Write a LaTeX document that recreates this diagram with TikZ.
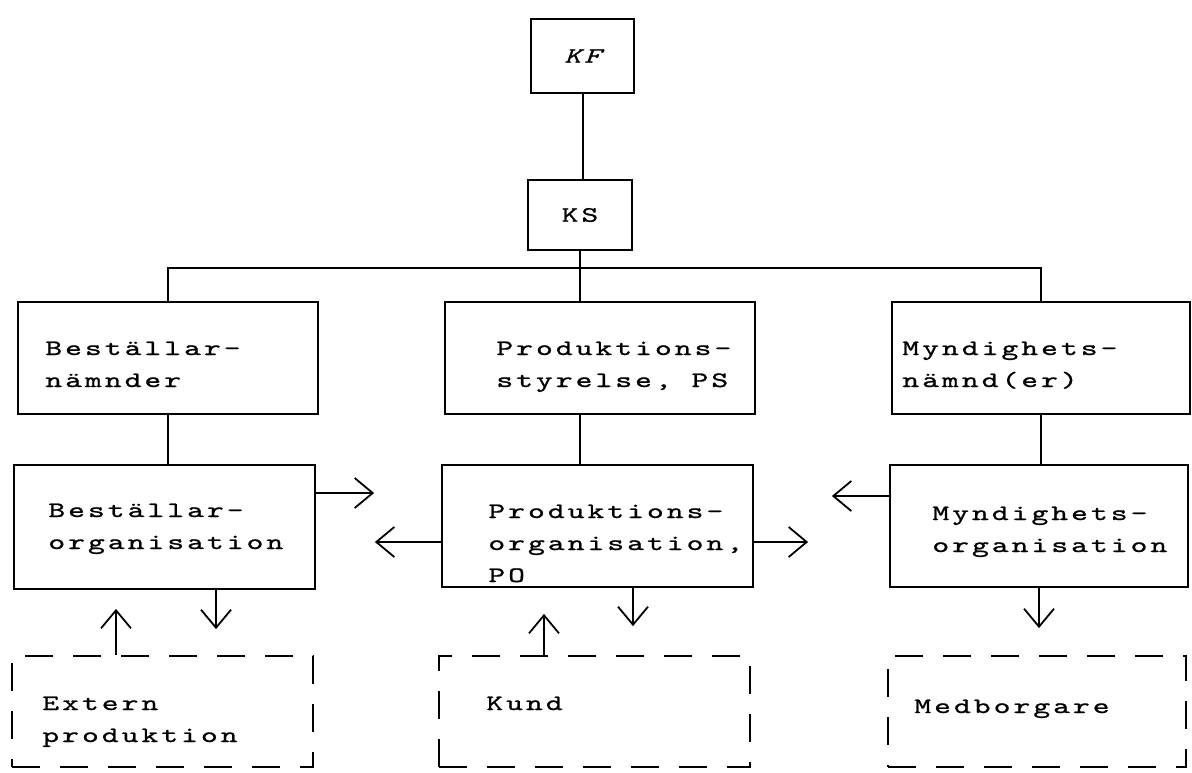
\documentclass[tikz,border=0pt]{standalone}
\usepackage{fontspec}
\newfontfamily\tw[Extension=.otf, ItalicFont=lmmono10-italic, FakeStretch=1.45, LetterSpace=14, FakeBold=1]{lmmono10-regular}
\usetikzlibrary{arrows.meta}

\begin{document}
\begin{tikzpicture}[x=0.5pt, y=-0.5pt,
  box/.style={draw, line width=1.1pt, inner sep=0pt},
  dbox/.style={box, dash pattern=on 14pt off 10pt},
  txt/.style={anchor=base west, align=left, inner sep=0pt, font=\tw\fontsize{11}{16}\selectfont},
  arr/.style={line width=0.9pt, -{Straight Barb[length=9pt,width=15pt]}}]
  \useasboundingbox (0,0) rectangle (1192,772);

  % KF och KS
  \node[box, minimum width=51.5pt, minimum height=37pt, font=\tw\itshape\fontsize{11}{16}\selectfont] (kf) at (582.5,56) {KF};
  \node[box, minimum width=52pt, minimum height=35pt, font=\tw\fontsize{11}{16}\selectfont] (ks) at (580,215) {KS};

  % nämnder (textnoden sitter på sista radens baslinje)
  \node[box, minimum width=150pt, minimum height=56pt] (bn) at (168,358) {};
  \node[box, minimum width=155pt, minimum height=56pt] (ps) at (600,358) {};
  \node[box, minimum width=149pt, minimum height=56pt] (mn) at (1041,358) {};
  \node[txt] (tbn) at (45,387) {Beställar-\\nämnder};
  \node[txt] (tps) at (496,387) {Produktions-\\styrelse, PS};
  \node[txt] (tmn) at (902,387) {Myndighets-\\nämnd(er)};

  % organisationer
  \node[box, minimum width=150.5pt, minimum height=62pt] (bo) at (164.5,527) {};
  \node[box, minimum width=155.5pt, minimum height=61pt] (po) at (597.5,526) {};
  \node[box, minimum width=149pt, minimum height=61pt] (mo) at (1039,526) {};
  \node[txt] (tbo) at (48,549) {Beställar-\\organisation};
  \node[txt] (tpo) at (488,582) {Produktions-\\organisation,\\PO};
  \node[txt] (tmo) at (932,552) {Myndighets-\\organisation};

  % streckade rutor
  \node[dbox, minimum width=150.5pt, minimum height=55.5pt] (ext) at (162.5,711.5) {};
  \node[dbox, minimum width=155.5pt, minimum height=55.5pt] (kund) at (594.5,711.5) {};
  \node[dbox, minimum width=149pt, minimum height=55.5pt] (medb) at (1037,711.5) {};
  \node[txt] (text) at (42,742) {Extern\\produktion};
  \node[txt] (tkund) at (486,710) {Kund};
  \node[txt] (tmedb) at (914,713) {Medborgare};

  % linjer
  \coordinate (bus) at (580,268);
  \draw[line width=1pt] (kf.south) -- (kf.south |- ks.north);
  \draw[line width=1pt] (ks.south) -- (ks.south |- ps.north);
  \draw[line width=1pt] (bn.north) |- (bus) -| (mn.north);
  \draw[line width=1pt] (bn.south) -- (bn.south |- bo.north);
  \draw[line width=1pt] (ps.south -| ks.south) -- (po.north -| ks.south);
  \draw[line width=1pt] (mn.south) -- (mn.south |- mo.north);

  % pilar
  \draw[arr] ([yshift=17pt]bo.east) -- ++(58,0);
  \draw[arr] ([yshift=-8pt]po.west) -- ++(-66,0);
  \draw[arr] ([yshift=-8pt]po.east) -- ++(54,0);
  \draw[arr] ([yshift=15pt]mo.west) -- ++(-57,0);
  \draw[arr] ([xshift=25.75pt]bo.south) -- ++(0,39);
  \draw[arr] ([xshift=-23.25pt]ext.north) -- ++(0,-46);
  \draw[arr] ([xshift=17.75pt]po.south) -- ++(0,38);
  \draw[arr] ([xshift=-25.25pt]kund.north) -- ++(0,-41);
  \draw[arr] (mo.south) -- ++(0,40);
\end{tikzpicture}
\end{document}
